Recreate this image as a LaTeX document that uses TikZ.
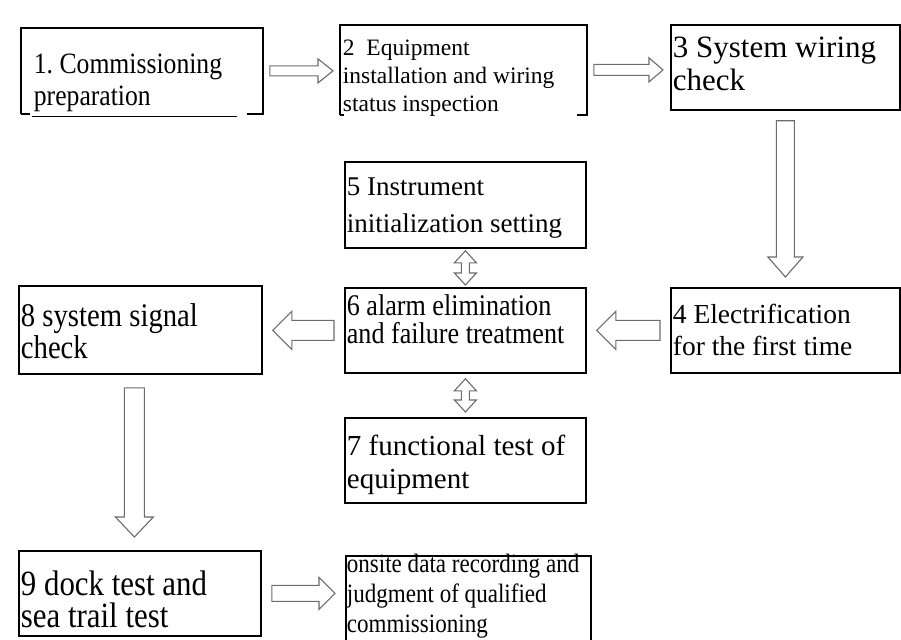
\documentclass[tikz,border=0pt]{standalone}
\usepackage{fontspec}
\setmainfont{Liberation Serif}
\newfontfamily\narrowserif[FakeStretch=0.87]{Liberation Serif}
\usetikzlibrary{calc}

\tikzset{
  box/.style={draw, line width=1.8pt, anchor=north west, align=flush left, inner xsep=2pt, inner ysep=0pt},
  openbox/.style={box, draw=none},
  % hollow block arrow: shaft half width, head half width, head length, gap
  hollow/.style n args={4}{draw=gray!85!black, line width=1.1pt, fill=white,
    to path={let \p1=(\tikztostart), \p2=(\tikztotarget),
      \n1={atan2(\y2-\y1,\x2-\x1)}, \n2={veclen(\x2-\x1,\y2-\y1)} in
      {[shift={(\p1)}, rotate=\n1]
      (#4,-#1) -- ({\n2-#4-#3},-#1) -- ({\n2-#4-#3},-#2) -- ({\n2-#4},0)
      -- ({\n2-#4-#3},#2) -- ({\n2-#4-#3},#1) -- (#4,#1) -- cycle}}},
  twohead/.style n args={4}{draw=gray!85!black, line width=1.1pt, fill=white,
    to path={let \p1=(\tikztostart), \p2=(\tikztotarget),
      \n1={atan2(\y2-\y1,\x2-\x1)}, \n2={veclen(\x2-\x1,\y2-\y1)} in
      {[shift={(\p1)}, rotate=\n1]
      (#4,0) -- ({#4+#3},-#2) -- ({#4+#3},-#1) -- ({\n2-#4-#3},-#1) -- ({\n2-#4-#3},-#2)
      -- ({\n2-#4},0) -- ({\n2-#4-#3},#2) -- ({\n2-#4-#3},#1) -- ({#4+#3},#1) -- ({#4+#3},#2) -- cycle}}}
}

\begin{document}
\frenchspacing
\begin{tikzpicture}[x=1pt,y=-1pt]
\useasboundingbox (0,0) rectangle (901,639);

% steps
\node[openbox, inner xsep=12pt, text width=216pt, text height=45pt, text depth=39pt, font=\narrowserif\fontsize{29.5pt}{32pt}\selectfont] (b1) at (21,28) {1. Commissioning\\preparation};
\node[openbox, text width=241pt, text height=30pt, text depth=58pt, font=\fontsize{23.5pt}{28pt}\selectfont] (b2) at (340,25) {2\ \ Equipment\\installation and wiring\\status inspection};
\node[box, text width=225pt, text height=33pt, text depth=52pt, font=\fontsize{31pt}{33pt}\selectfont] (b3) at (670,24) {3 System wiring\\check};
\node[box, text width=225pt, text height=36pt, text depth=49pt, font=\fontsize{27.5pt}{32pt}\selectfont] (b4) at (670,287) {4 Electrification\\for the first time};
\node[box, text width=237pt, text height=34pt, text depth=52pt, font=\fontsize{27pt}{37pt}\selectfont] (b5) at (344,161) {5 Instrument\\initialization setting};
\node[box, text width=237pt, text height=28pt, text depth=57pt, font=\narrowserif\fontsize{30pt}{28pt}\selectfont] (b6) at (344,287) {6 alarm elimination\\and failure treatment};
\node[box, text width=237pt, text height=38pt, text depth=47pt, font=\fontsize{29pt}{33pt}\selectfont] (b7) at (344,417) {7 functional test of\\equipment};
\node[box, text width=239pt, text height=41pt, text depth=47pt, font=\narrowserif\fontsize{33pt}{32pt}\selectfont] (b8) at (18,285) {8 system signal\\check};
\node[box, text width=238pt, text height=45pt, text depth=40pt, font=\narrowserif\fontsize{35.5pt}{32pt}\selectfont] (b9) at (18,550) {9 dock test and\\sea trail test};
\node[box, inner xsep=1pt, text width=243pt, text height=17pt, text depth=80pt, font=\narrowserif\fontsize{26.5pt}{30pt}\selectfont] (b10) at (345,555) {onsite data recording and\\judgment of qualified\\commissioning};

% broken frames of the first two steps
\draw[line width=1.8pt] (b1.south west) |- (b1.north east) |- ($(b1.south east)+(-16,0)$);
\draw[line width=1.8pt] (b1.south west) -- +(9,0);
\draw[line width=1pt] ($(b1.south west)+(11,3)$) -- +(205,0);
\draw[line width=1.8pt] (b2.south west) |- (b2.north east) |- ($(b2.south east)+(-10,0)$);
\draw[line width=1.8pt] (b2.south west) -- +(4,0);

% flow
\draw[hollow={5}{12}{15}{7}] (b1.east) to (b1.east -| b2.west);
\draw[hollow={5.5}{12}{14}{7}] (b2.east) to (b2.east -| b3.west);
\draw[hollow={9}{17.5}{20}{10}] (b3.south) to (b3.south |- b4.north);
\draw[hollow={10}{19}{19}{10}] (b4.west) to (b4.west -| b6.east);
\draw[hollow={10}{19}{19}{10}] (b6.west) to (b6.west -| b8.east);
\draw[hollow={10}{19}{20}{13}] ($(b8.south)+(-6,0)$) to ($(b8.south |- b9.north)+(-6,0)$);
\draw[hollow={8}{16}{16}{10}] (b9.east) to (b9.east -| b10.west);
\draw[twohead={4}{11}{12}{2}] (b5.south) to (b5.south |- b6.north);
\draw[twohead={4}{11}{12}{5}] (b6.south) to (b6.south |- b7.north);
\end{tikzpicture}
\end{document}
